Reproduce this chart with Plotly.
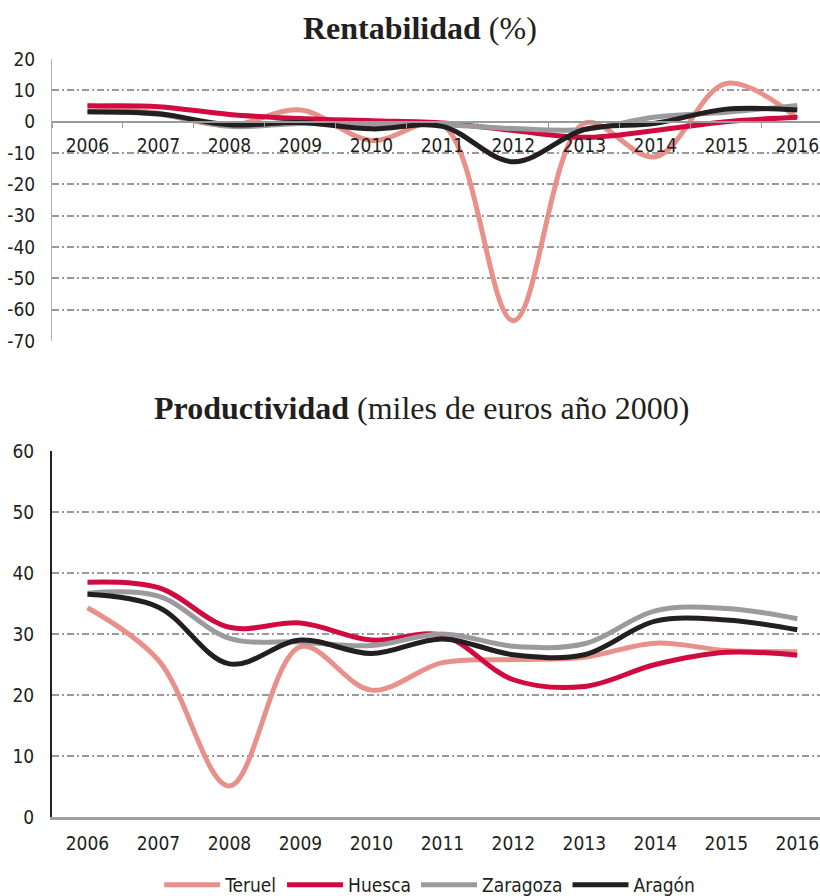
import plotly.graph_objects as go

years = ["2006", "2007", "2008", "2009", "2010", "2011", "2012", "2013", "2014", "2015", "2016"]

series_names = ["Teruel", "Huesca", "Zaragoza", "Aragón"]

# Rentabilidad (%)
rent_teruel = [5.3, 2.7, -1.2, 3.7, -6.0, -1.0, -63.5, -0.5, -11.2, 12.2, 1.1]
rent_huesca = [5.0, 4.8, 2.3, 1.0, 0.3, -0.4, -2.8, -5.0, -2.8, 0.0, 1.4]
rent_zaragoza = [3.2, 2.4, -1.5, -0.6, -1.0, -1.0, -2.2, -2.5, 1.5, 3.0, 5.2]
rent_aragon = [3.2, 2.5, -1.0, -0.3, -2.3, -1.5, -12.8, -2.5, -0.5, 4.0, 3.7]

# Productividad (miles de euros año 2000)
prod_teruel = [34.3, 25.7, 5.1, 27.9, 20.8, 25.3, 25.8, 26.2, 28.5, 27.3, 27.1]
prod_huesca = [38.5, 37.6, 31.1, 31.8, 29.0, 29.8, 22.5, 21.4, 25.0, 27.0, 26.5]
prod_zaragoza = [36.7, 36.2, 29.3, 28.7, 28.1, 30.0, 28.0, 28.4, 33.8, 34.2, 32.5]
prod_aragon = [36.5, 34.4, 25.1, 29.0, 26.8, 29.2, 26.6, 26.6, 32.1, 32.3, 30.7]

rent_ticks = [20, 10, 0, -10, -20, -30, -40, -50, -60, -70]
rent_ticktext = ["20", "10", "0", "-10", "-20", "-30", "-40", "-50", "-60", "-70"]
prod_ticks = [0, 10, 20, 30, 40, 50, 60]

colors = ["#E8918A", "#D10A3F", "#9B9B9F", "#231F20"]

TICKFONT = dict(family="Liberation Sans Narrow, DejaVu Sans Condensed, Roboto, sans-serif",
                size=19, color="#231F20")
GRID = "#9a9a9a"
W, H = 820, 896

fig = go.Figure()

rent = [rent_teruel, rent_huesca, rent_zaragoza, rent_aragon]
prod = [prod_teruel, prod_huesca, prod_zaragoza, prod_aragon]

for name, vals, c in zip(series_names, rent, colors):
    fig.add_trace(go.Scatter(x=years, y=vals, name=name, mode="lines",
                             line=dict(color=c, width=5, shape="spline", smoothing=1.0),
                             xaxis="x", yaxis="y", showlegend=False))
for name, vals, c in zip(series_names, prod, colors):
    fig.add_trace(go.Scatter(x=years, y=vals, name=name, mode="lines",
                             line=dict(color=c, width=5, shape="spline", smoothing=1.0),
                             xaxis="x2", yaxis="y2", showlegend=True))

def py(pix):
    return 1 - pix / H

left = 52 / W
top_dom = [py(341), py(59)]
bot_dom = [py(817), py(451)]

fig.update_layout(
    width=W, height=H,
    margin=dict(l=0, r=0, t=0, b=0, autoexpand=False),
    paper_bgcolor="white", plot_bgcolor="white",
    showlegend=True,
    legend=dict(orientation="h", x=0.524, xanchor="center", y=py(885), yanchor="middle",
                font=dict(family=TICKFONT["family"], size=19, color="#231F20"),
                itemwidth=56, tracegroupgap=0),
    xaxis=dict(domain=[left, 1], type="category", range=[-0.5, 10.32],
               anchor="free", position=py(121.7),
               showline=True, linecolor="#9a9a9a", linewidth=2,
               showgrid=False, zeroline=False,
               ticks="outside", tickson="boundaries", ticklen=5, tickcolor="#9a9a9a",
               ticklabelstandoff=6,
               tickfont=TICKFONT, automargin=False, fixedrange=True),
    yaxis=dict(domain=top_dom, range=[-70, 20], tickvals=rent_ticks, ticktext=rent_ticktext,
               showline=True, linecolor="#b0b0b0", linewidth=1,
               showgrid=True, gridcolor=GRID, gridwidth=1.5, griddash="7px,3px,2px,3px",
               zeroline=False, ticks="outside", ticklen=12, tickcolor="rgba(0,0,0,0)",
               tickfont=TICKFONT, automargin=False, anchor="x"),
    xaxis2=dict(domain=[left, 1], type="category", range=[-0.5, 10.32],
                anchor="y2", showline=True, linecolor="#a0a0a0", linewidth=3,
                showgrid=False, zeroline=False, ticks="outside", ticklen=7,
                tickcolor="rgba(0,0,0,0)", tickfont=TICKFONT, automargin=False),
    yaxis2=dict(domain=bot_dom, range=[0, 60], tickvals=prod_ticks,
                showline=True, linecolor="#231F20", linewidth=2,
                showgrid=True, gridcolor=GRID, gridwidth=1.5, griddash="7px,3px,2px,3px",
                zeroline=False, ticks="outside", ticklen=12, tickcolor="rgba(0,0,0,0)",
                tickfont=TICKFONT, automargin=False, anchor="x2"),
    annotations=[
        dict(text="<b>Rentabilidad</b> (%)", x=420 / W, y=py(28), xref="paper", yref="paper",
             showarrow=False, xanchor="center", yanchor="middle",
             font=dict(family="Liberation Serif, DejaVu Serif, serif", size=32, color="#231F20")),
        dict(text="<b>Productividad</b> (miles de euros año 2000)", x=421 / W, y=py(408),
             xref="paper", yref="paper", showarrow=False, xanchor="center", yanchor="middle",
             font=dict(family="Liberation Serif, DejaVu Serif, serif", size=32, color="#231F20")),
    ],
)

fig.write_html("out.html", config={"displayModeBar": False},
               post_script="document.body.style.margin='0px';")
